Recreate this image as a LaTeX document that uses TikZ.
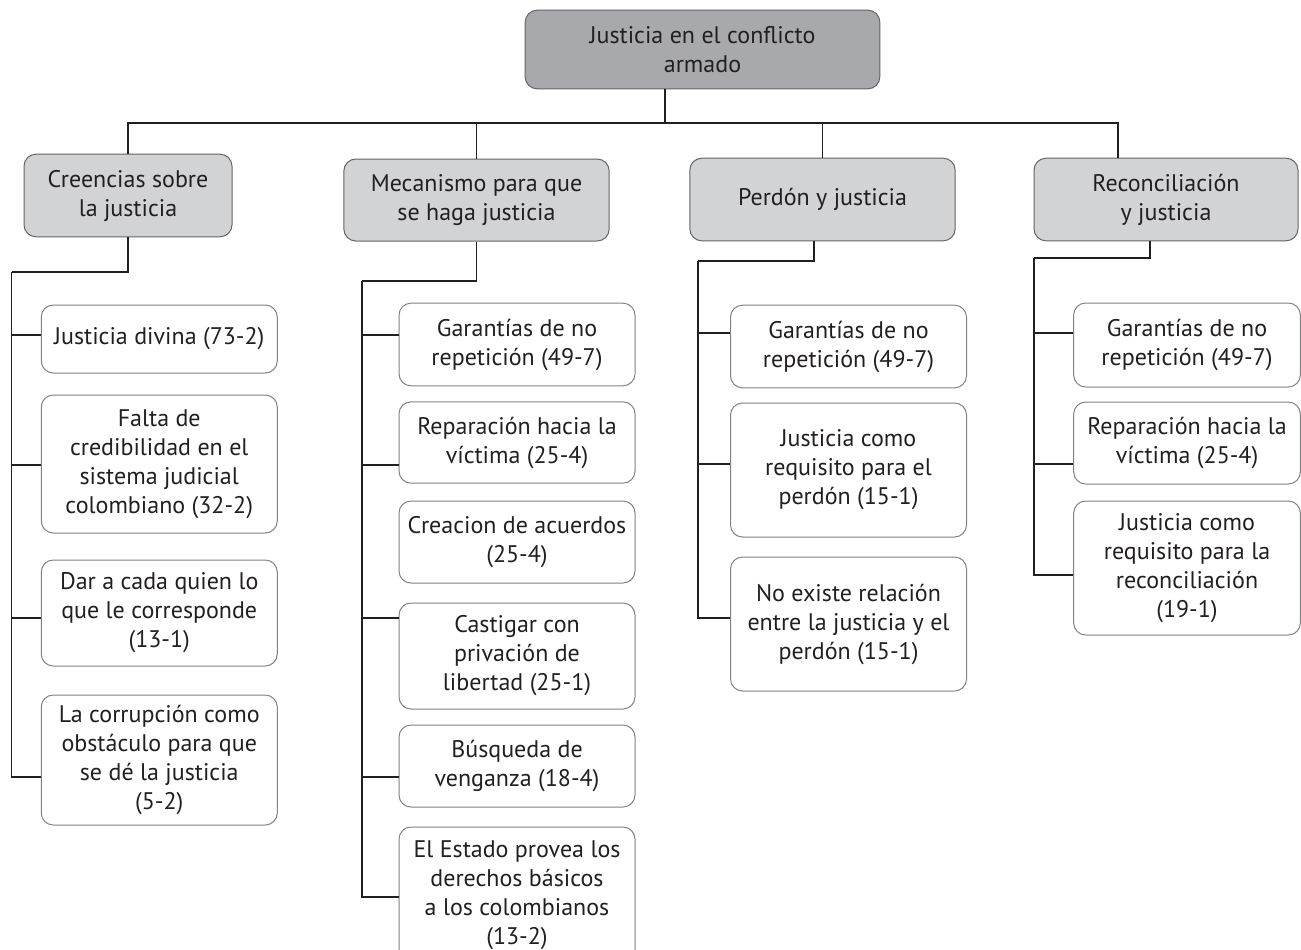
\documentclass[tikz,border=0pt]{standalone}
\usepackage{fontspec}
\setmainfont{PT Sans}
\usetikzlibrary{calc}

\definecolor{grisoscuro}{RGB}{167,169,172}
\definecolor{grisclaro}{RGB}{209,211,212}
\definecolor{borde}{RGB}{100,100,102}
\definecolor{bordeclaro}{RGB}{128,130,133}
\definecolor{linea}{RGB}{35,31,32}

\tikzset{every picture/.style={line width=0.75pt}}
\tikzset{
  raiz/.style={draw=borde, fill=grisoscuro, rounded corners=9pt, align=center, inner sep=2pt, text=linea},
  tema/.style={draw=borde, fill=grisclaro, rounded corners=9pt, align=center, inner sep=2pt, text=linea},
  item/.style={draw=bordeclaro, fill=white, rounded corners=9pt, align=center, inner sep=2pt, text=linea, minimum width=177pt},
  enlace/.style={draw=linea, line width=1pt},
}

\begin{document}
\begin{tikzpicture}[x=0.75pt,y=0.75pt,yscale=-1,xscale=1,font=\fontsize{18}{21.75}\selectfont]
\useasboundingbox (0,0) rectangle (1301,949);

%Raiz
\node[raiz, minimum width=266pt, minimum height=59pt] (root) at (702.5,49.5) {Justicia en el conflicto\\armado};

%Temas
\node[tema, minimum width=156pt, minimum height=62pt] (cre) at (128,195.5) {Creencias sobre\\la justicia};
\node[tema, minimum width=199pt, minimum height=61.5pt] (mec) at (476.5,200) {Mecanismo para que\\se haga justicia};
\node[tema, minimum width=199pt, minimum height=62pt] (per) at (822.5,199.5) {Perdón y justicia};
\node[tema, minimum width=198pt, minimum height=62pt] (rec) at (1166,199.5) {Reconciliación\\y justicia};

%Creencias
\node[item, minimum height=51pt] (a1) at (159.25,339) {Justicia divina (73-2)};
\node[item, minimum height=103.5pt] (a2) at (159.25,464) {Falta de\\credibilidad en el\\sistema judicial\\colombiano (32-2)};
\node[item, minimum height=79.5pt] (a3) at (159.25,613) {Dar a cada quien lo\\que le corresponde\\(13-1)};
\node[item, minimum height=97.5pt] (a4) at (159.25,760) {La corrupción como\\obstáculo para que\\se dé la justicia\\(5-2)};

%Mecanismo
\node[item, minimum height=62pt] (b1) at (517,344.5) {Garantías de no\\repetición (49-7)};
\node[item, minimum height=61pt] (b2) at (517,442.5) {Reparación hacia la\\víctima (25-4)};
\node[item, minimum height=61.5pt] (b3) at (517,542) {Creacion de acuerdos\\(25-4)};
\node[item, minimum height=79.5pt] (b4) at (517,656) {Castigar con\\privación de\\libertad (25-1)};
\node[item, minimum height=61.5pt] (b5) at (517,766) {Búsqueda de\\venganza (18-4)};
\node[item, minimum height=102pt] (b6) at (517,895) {El Estado provea los\\derechos básicos\\a los colombianos\\(13-2)};

%Perdon
\node[item, minimum height=62pt] (c1) at (848.5,346.5) {Garantías de no\\repetición (49-7)};
\node[item, minimum height=100.5pt] (c2) at (848.5,470) {Justicia como\\requisito para el\\perdón (15-1)};
\node[item, minimum height=100.5pt] (c3) at (848.5,624) {No existe relación\\entre la justicia y el\\perdón (15-1)};

%Reconciliacion
\node[item, minimum width=170pt, minimum height=63pt] (d1) at (1187,345) {Garantías de no\\repetición (49-7)};
\node[item, minimum width=170pt, minimum height=61.5pt] (d2) at (1187,443) {Reparación hacia la\\víctima (25-4)};
\node[item, minimum width=170pt, minimum height=100.5pt] (d3) at (1187,568) {Justicia como\\requisito para la\\reconciliación\\(19-1)};

%Barra superior
\coordinate (barra) at (665,123);
\coordinate (barraR) at (1118,123);
\draw[enlace] (root.south -| barra) -- (barra);
\draw[enlace] (cre.north) |- (barraR) -- (barraR |- rec.north);
\draw[enlace] (mec.north) -- (mec.north |- barra);
\draw[enlace] (per.north) -- (per.north |- barra);

%Columnas
\coordinate (s1) at (11.6,272);
\coordinate (s2) at (362,281);
\coordinate (s3) at (698,261);
\coordinate (s4) at (1034,258);
\draw[enlace] (cre.south) |- (s1);
\draw[enlace] (mec.south) |- (s2);
\draw[enlace] ($(per.south)+(-8.5,0)$) |- (s3);
\draw[enlace] ($(rec.south)+(-16,0)$) |- (s4);
\foreach \n/\d in {a1/-4,a2/1,a3/5,a4/17}
  \draw[enlace] ($(\n.west)+(0,\d)$) -| (s1);
\foreach \n/\d in {b1/-9.5,b2/22.5,b4/-38,b5/11,b6/2}
  \draw[enlace] ($(\n.west)+(0,\d)$) -| (s2);
\foreach \n/\d in {c1/-13.5,c2/-6,c3/-6}
  \draw[enlace] ($(\n.west)+(0,\d)$) -| (s3);
\foreach \n/\d in {d1/-12,d2/21,d3/7}
  \draw[enlace] ($(\n.west)+(0,\d)$) -| (s4);

\end{tikzpicture}
\end{document}
